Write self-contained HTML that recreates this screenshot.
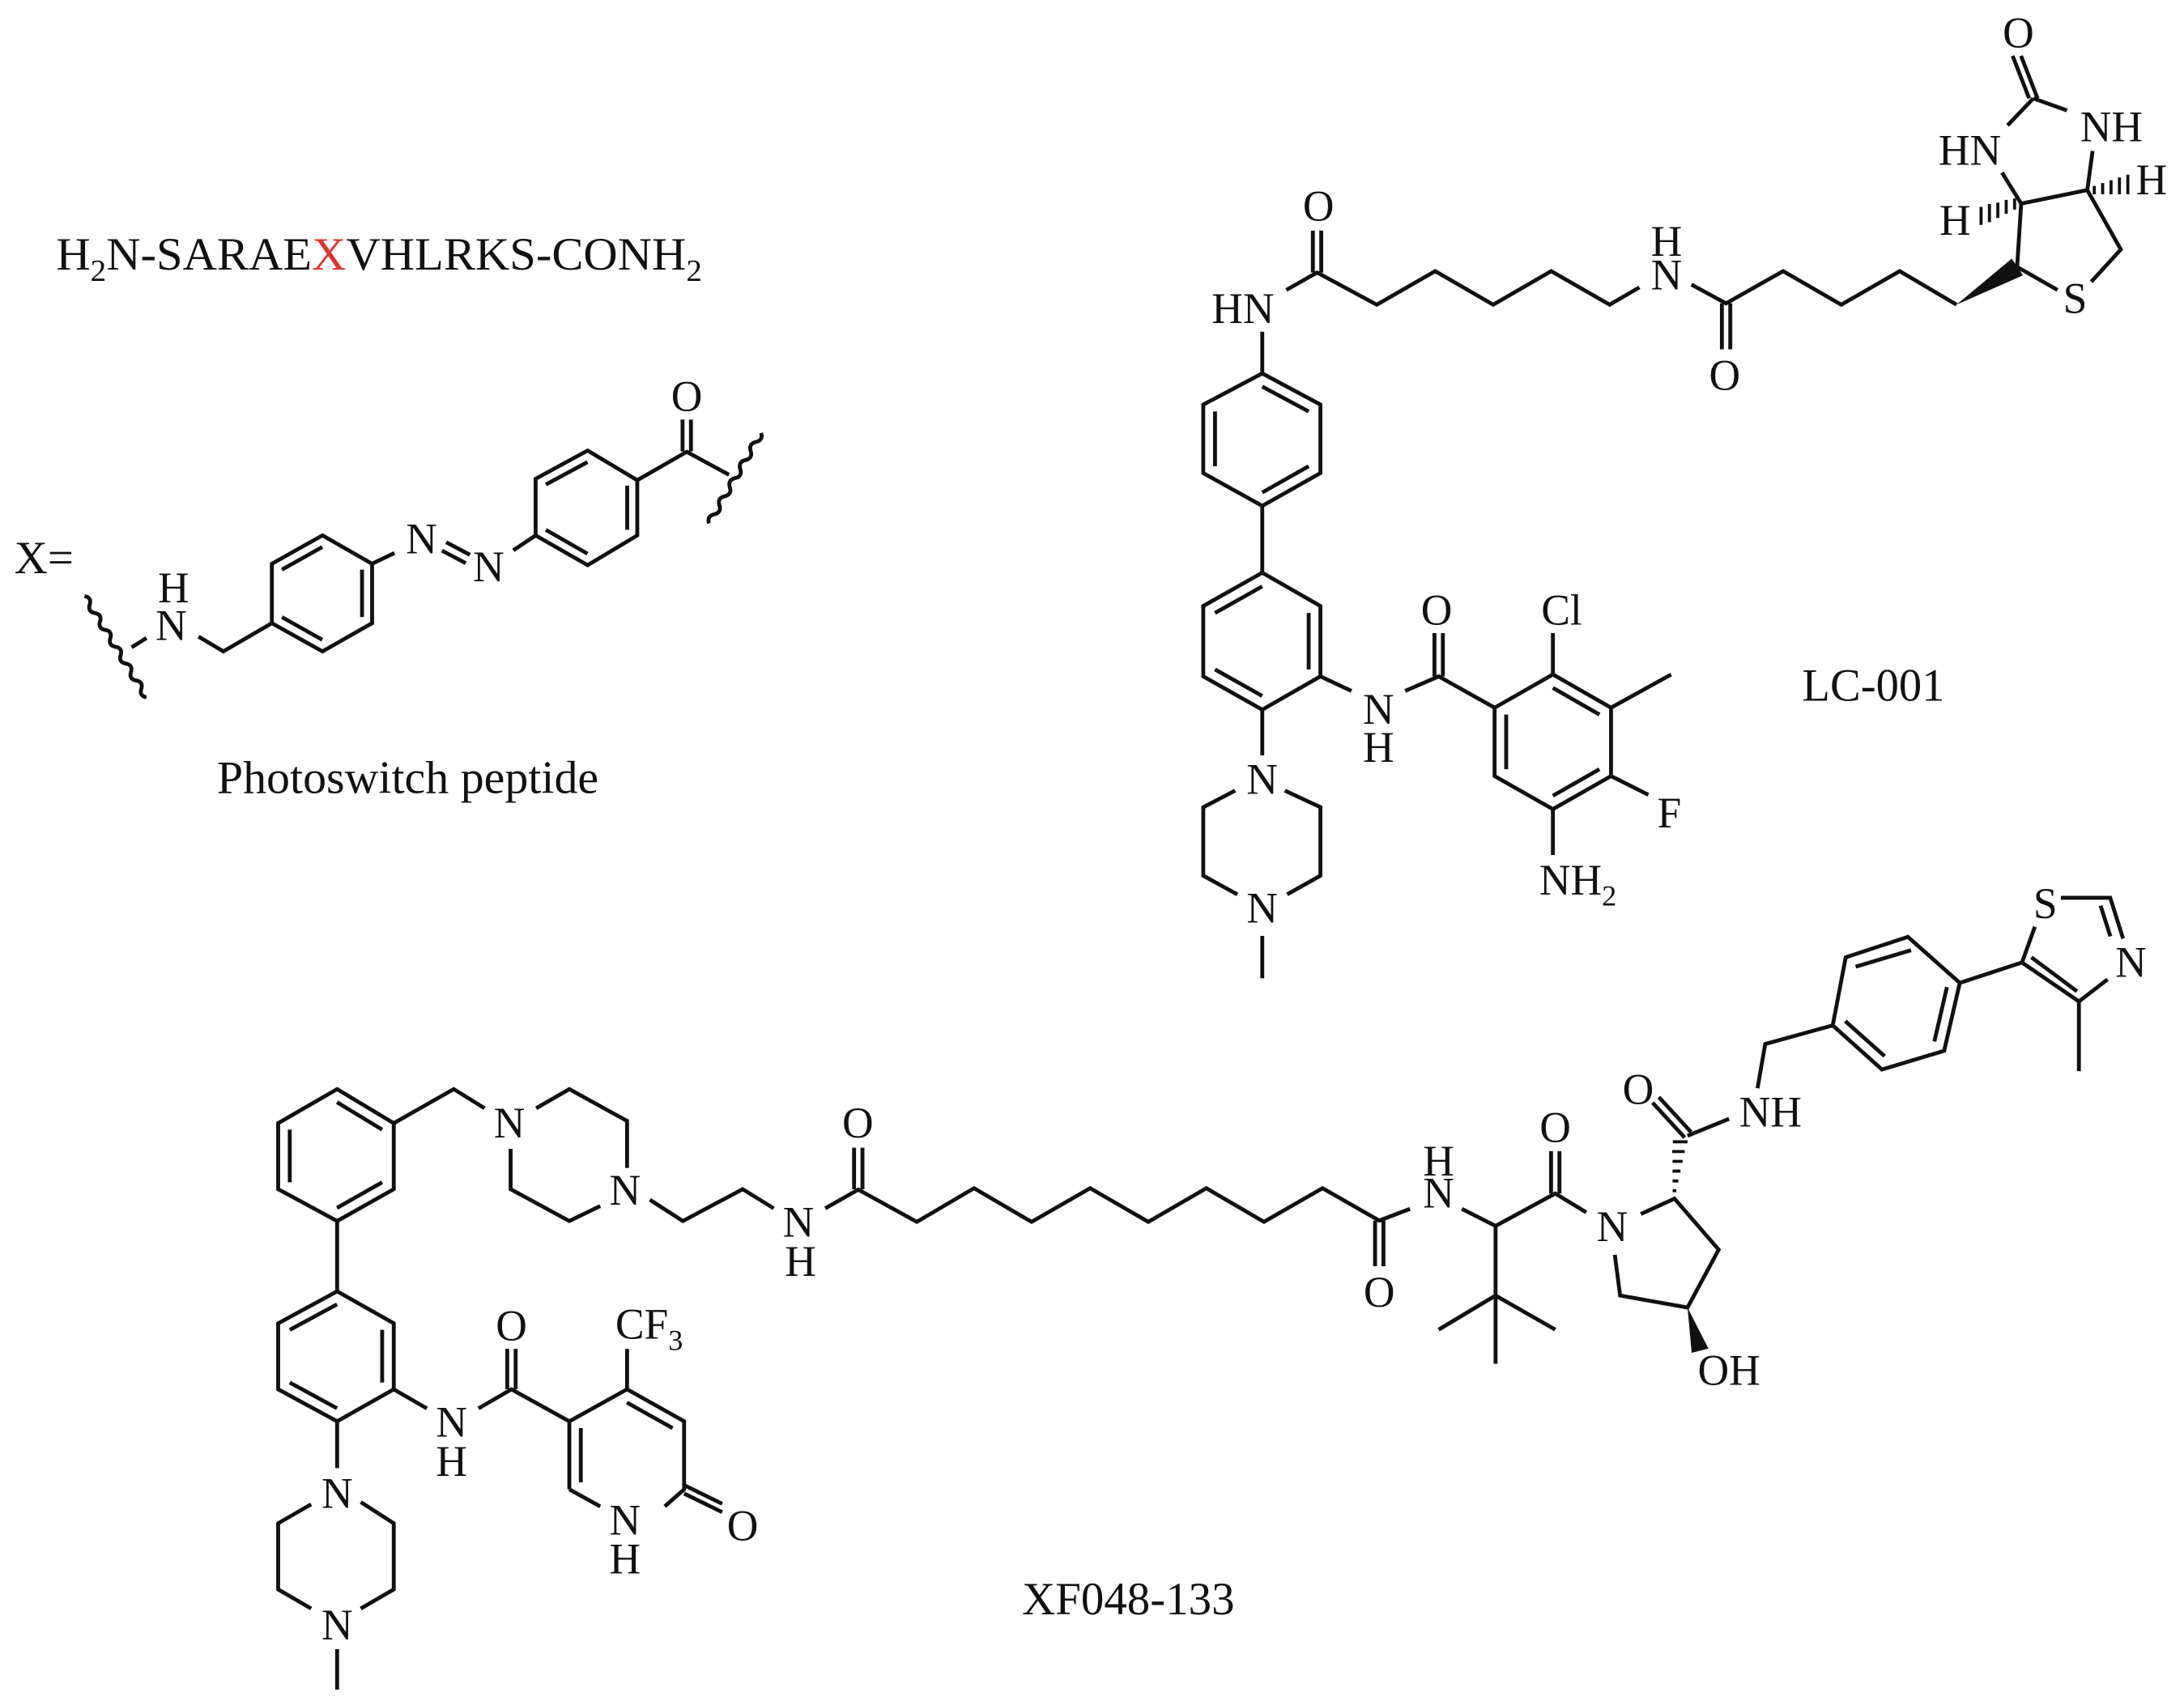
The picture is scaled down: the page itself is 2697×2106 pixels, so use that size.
<!DOCTYPE html>
<html><head><meta charset="utf-8"><style>
html,body{margin:0;padding:0;background:#fff}
svg{display:block}
text{font-family:"Liberation Serif",serif;fill:#111}
.a{font-size:31px;text-anchor:middle}
.c{font-size:33px}
</style></head><body>
<svg width="2697" height="2106" viewBox="0 0 1562 1220" xmlns="http://www.w3.org/2000/svg">
<g stroke="#111" stroke-width="2.8" fill="none" stroke-linecap="butt" stroke-linejoin="miter">
<!-- Photoswitch -->
<path d="M60.3,426.6 q5.26,0.94 3.69,6.03 t3.69,6.03 t3.69,6.03 t3.69,6.03 t3.69,6.03 t3.69,6.03 t3.69,6.03 t3.69,6.03 t3.69,6.03 t3.69,6.03 t3.69,6.03 t3.69,6.03"/>
<path d="M544.3,309.8 q1.6,5.24 -3.73,6.47 t-3.73,6.47 t-3.73,6.47 t-3.73,6.47 t-3.73,6.47 t-3.73,6.47 t-3.73,6.47 t-3.73,6.47 t-3.73,6.47 t-3.73,6.47"/>
<path d="M104.6,456.5 L94,463.2"/>
<path d="M141.8,455.5 L159.6,466.1 L194.3,445.9"/>
<path d="M194.3,445.9 L194.3,403.4 L230.5,383.1 L266,403.4 L266,445.9 L230.5,466.1 Z"/>
<path d="M201.5,407.6 L230.4,391.4 M258.8,407.6 L258.8,441.5 M201.5,441.6 L230.4,457.8"/>
<path d="M266,403.4 L282,395.7 M319,388 L336,397 M316,394 L333,403 M367,393.8 L383,383.1"/>
<path d="M383,383.1 L383,342.6 L420.2,322.4 L455.7,343.6 L455.7,383.1 L420.2,404.4 Z"/>
<path d="M390.3,346.7 L420.1,330.6 M448.5,347.5 L448.5,379.1 M390.3,379.1 L420.1,396.2"/>
<path d="M455.7,343.6 L491.1,323.3 L521.3,339.7 M488.1,323 L488.1,300.2 M494.1,323 L494.1,300.2"/>
<!-- LC-001 -->
<path d="M902.8,237.4 L902.8,267.2 M920,207.5 L942,195 L984.7,218 L1026.5,194 L1068,218 L1109.5,194 L1151.3,218 L1172.6,205.6"/>
<path d="M939,195 L939,165 M945,195 L945,165"/>
<path d="M1209.8,203.6 L1234.6,217.1 L1275.4,194 L1317,218 L1358.8,194 L1399.5,218 M1231.6,217 L1231.6,250 M1237.6,217 L1237.6,250"/>
<path d="M860.6,289.5 L902.8,267.2 L944.4,289.5 L944.4,338.5 L902.8,362 L860.6,338.5 Z"/>
<path d="M902.8,276.6 L936,294.4 M869,333.6 L869,294.4 M936,333.6 L902.8,352.4"/>
<path d="M902.8,362 L902.8,409.8"/>
<path d="M860.6,433.6 L902.8,409.8 L944.4,433.6 L944.4,484 L902.8,507.8 L860.6,484 Z"/>
<path d="M902.8,419.6 L869,438.6 M936,438.6 L936,479 M902.8,498 L869,479"/>
<path d="M944.4,484 L966.6,494.4 M1005,494.4 L1029,484 L1069,506.4 M1026,484 L1026,453 M1032,484 L1032,453"/>
<path d="M1069,506.4 L1110.7,482.6 L1152.3,506.4 L1152.3,555.3 L1110.7,579 L1069,555.3 Z"/>
<path d="M1110.7,492.2 L1144,511.3 M1077.3,511.3 L1077.3,550.4 M1144,550.4 L1110.7,569.4"/>
<path d="M1110.7,482.6 L1110.7,453 M1152.3,506.4 L1195.3,482.6 M1152.3,555.3 L1179,568.7 M1110.7,579 L1110.7,611.8"/>
<path d="M902.8,507.8 L902.8,540.5 M919,565.7 L944.4,577.6 L944.4,626.6 L920.6,640 M885,640 L860.6,626.6 L860.6,577.6 L883.4,565.7 M902.8,669.7 L902.8,700"/>
<!-- biotin -->
<path d="M1439.6,40 L1451.4,70.4 M1445.6,40 L1457.4,70.4"/>
<path d="M1454.4,70.4 L1436,89.7 M1454.4,70.4 L1478.5,79 M1496.8,108 L1493,136 L1445.7,145.7 M1432,123.5 L1445.7,145.7 M1445.7,145.7 L1442.8,191 M1493,136 L1517,178.5 L1495.8,201.7 M1471.7,207.5 L1442.8,191"/>
<path d="M1441,142 L1441,150 M1435,143 L1435,153 M1429,145 L1429,156 M1423,146 L1423,159 M1417,148 L1417,161" stroke-width="2.2"/>
<path d="M1498,133 L1498,139 M1504,131 L1504,139 M1510,129 L1510,139 M1516,127 L1516,139 M1522,125 L1522,139" stroke-width="2.2"/>
<!-- XF048-133 -->
<path d="M198.8,803.7 L241,779.3 L281.5,803.7 L281.5,850.9 L241,873.7 L198.8,850.9 Z"/>
<path d="M240.9,788.7 L273.2,808.3 M207.1,846 L207.1,808.3 M273.2,846 L240.9,864.3"/>
<path d="M281.5,803.7 L324.4,779.3 L346.5,793 M383.4,793 L407.1,779.3 L448.4,802.1 L448.4,835.7 M429.2,863 L407.1,873.7 L365.1,850.9 L365.1,822"/>
<path d="M464.7,858.5 L488.3,873.7 L531.1,850.9 L553.3,864.6 M590.2,864.6 L613.8,851.2 L655.7,874.3 L696.6,850.2 L737.8,874.3 L779.7,850.2 L821.3,874.3 L862.8,850.2 L904,874.3 L945.9,850.2 L986.5,873.4 L1008.5,865"/>
<path d="M610.8,851 L610.8,821.2 M616.8,851 L616.8,821.2 M983.5,873.4 L983.5,906 M989.5,873.4 L989.5,906"/>
<path d="M241,873.7 L241,924"/>
<path d="M198.8,946.9 L241,924 L281.5,946.9 L281.5,994.1 L241,1017 L198.8,994.1 Z"/>
<path d="M240.9,933.3 L207.1,951.6 M273.2,951.6 L273.2,989.3 M240.9,1007.7 L207.1,989.3"/>
<path d="M281.5,994.1 L305.2,1007.8 M342.1,1007.8 L365.7,994.1 L407.1,1017 M362.7,994 L362.7,965.2 M368.7,994 L368.7,965.2"/>
<path d="M407.1,1017 L448.4,994.1 L489.2,1017 L489.2,1065.7 L475.4,1077.9 M429.2,1077.9 L407.1,1065.7 Z"/>
<path d="M407.1,1017 L407.1,1065.7 M415.3,1021.9 L415.3,1060.6 M448.3,1003.6 L481,1021.9 M448.4,994.1 L448.4,965.2"/>
<path d="M489.2,1062.7 L516.4,1076 M489.2,1068.7 L516.4,1082"/>
<path d="M241,1017 L241,1050.5 M257.9,1074.8 L281.5,1090 L281.5,1137.3 L257.9,1151 M222.4,1151 L198.8,1137.3 L198.8,1090 L222.4,1076.4 M241,1180 L241,1209"/>
<!-- VHL part -->
<path d="M1045.6,865 L1069.7,877.2 L1112.4,854 L1134.6,867.5 M1069.7,877.2 L1069.7,927 L1029,951.4 M1069.7,927 L1112.4,951.4 M1069.7,927 L1069.7,975.8"/>
<path d="M1109.4,854 L1109.4,823.7 M1115.4,854 L1115.4,823.7"/>
<path d="M1173.6,868.7 L1197.7,857.7 L1229.3,894.2 L1207,935.6 L1158.8,927 L1155,897.9"/>
<path d="M1207,812.7 L1236.7,800.6 M1205,814 L1182,789 M1209.5,810 L1186.5,785 M1257.1,778.7 L1262.6,747 L1310.9,733.7"/>
<path d="M1310.9,733.7 L1320.2,685 L1364.7,670.4 L1401.8,703.3 L1390.6,751.9 L1346.1,765.3 Z"/>
<path d="M1327.3,691.7 L1366.9,679.9 M1392.6,706.3 L1383.6,745.2 M1319.9,730.7 L1348,755.7"/>
<path d="M1401.8,703.3 L1446.3,688.7 L1455.5,663.1 M1474.1,642.4 L1509.4,642.4 L1518.6,671.6 M1507.5,700.8 L1487,716.6 L1446.3,688.7 M1453,685 L1485.6,709.3 M1502.5,648 L1509.5,670 M1487,716.6 L1487,766.5"/>
<path d="M1199,852 L1196.4,852 M1200.5,845 L1196.3,845 M1202,838 L1196.3,838 M1203.5,831 L1196.3,831 M1205,824 L1196,824 M1207,817 L1196.5,817" stroke-width="2.2"/>
</g>
<polygon points="1399.4,218 1439,185 1447,197" fill="#111"/>
<polygon points="1207,935.6 1210,968 1222,965" fill="#111"/>
<!-- labels -->
<text class="c" x="40" y="193" textLength="462" lengthAdjust="spacingAndGlyphs">H<tspan font-size="22" dy="8">2</tspan><tspan dy="-8">N-SARAE</tspan><tspan fill="#e0332f">X</tspan>VHLRKS-CONH<tspan font-size="22" dy="8">2</tspan></text>
<text class="c" x="10" y="410">X=</text>
<text class="c" x="155" y="567.5" textLength="273" lengthAdjust="spacingAndGlyphs">Photoswitch peptide</text>
<text class="c" x="1289" y="501.5" textLength="102" lengthAdjust="spacingAndGlyphs">LC-001</text>
<text class="c" x="731" y="1155" textLength="152" lengthAdjust="spacingAndGlyphs">XF048-133</text>
<g class="a">
<text x="124" y="431">H</text><text x="122.3" y="458">N</text>
<text x="301.4" y="396">N</text><text x="349.3" y="416">N</text>
<text x="491.1" y="294">O</text>
<text x="889" y="231">HN</text><text x="943" y="158">O</text>
<text x="1192" y="207">N</text><text x="1192" y="183">H</text>
<text x="1233.6" y="279">O</text>
<text x="1443.7" y="34">O</text><text x="1409" y="118">HN</text><text x="1510.3" y="101">NH</text>
<text x="1398.4" y="168">H</text><text x="1539" y="139">H</text><text x="1484.3" y="224">S</text>
<text x="986" y="518">N</text><text x="986" y="545">H</text>
<text x="1027.5" y="447">O</text><text x="1117" y="447">Cl</text>
<text x="1194" y="592">F</text>
<text x="902.8" y="568">N</text><text x="902.8" y="660">N</text>
<text x="364.2" y="814">N</text><text x="446.9" y="862">N</text>
<text x="571" y="885">N</text><text x="572.5" y="913">H</text>
<text x="613.5" y="814">O</text><text x="986.5" y="935">O</text>
<text x="322.9" y="1028">N</text><text x="322.9" y="1056">H</text>
<text x="365.7" y="959">O</text>
<text x="446.9" y="1098">N</text><text x="446.9" y="1126">H</text>
<text x="531.1" y="1102">O</text>
<text x="241" y="1079">N</text><text x="241" y="1173">N</text>
<text x="1029" y="864">N</text><text x="1029" y="841">H</text>
<text x="1112.4" y="817">O</text><text x="1153.2" y="888">N</text>
<text x="1236.7" y="991">OH</text>
<text x="1171.7" y="790">O</text><text x="1266.4" y="806">NH</text>
<text x="1463" y="657">S</text><text x="1524.2" y="699">N</text>
</g>
<text style="font-size:31px" x="1101" y="640">NH<tspan font-size="21" dy="8">2</tspan></text>
<text style="font-size:31px" x="440" y="958">CF<tspan font-size="21" dy="8">3</tspan></text>
</svg>
</body></html>
